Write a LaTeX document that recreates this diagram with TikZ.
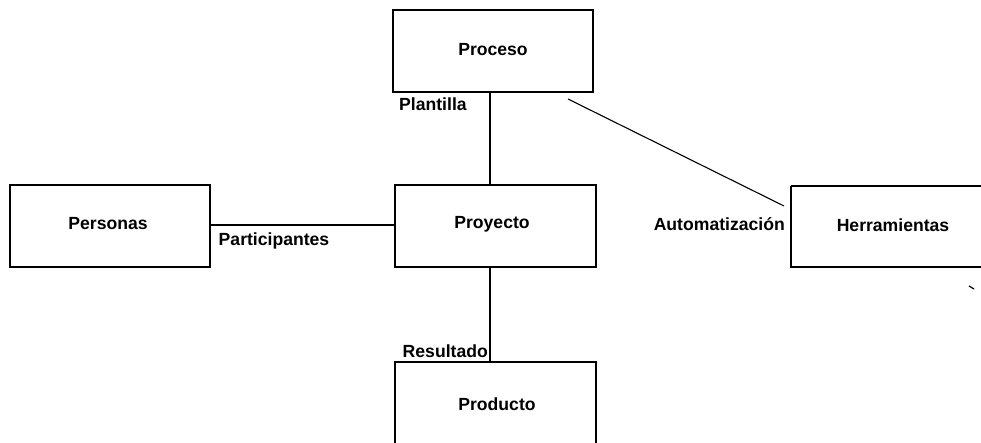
\documentclass[tikz,border=0pt]{standalone}
\usepackage{fontspec}
\setmainfont{Liberation Sans}
\begin{document}
\begin{tikzpicture}[x=1pt,y=-1pt,
  box/.style={draw,line width=1.3pt},
  txt/.style={font=\fontsize{17.6}{20}\selectfont\bfseries,inner sep=0pt},
  link/.style={line width=1.1pt}]
\useasboundingbox (0,0) rectangle (981,443);
% boxes
\draw[box] (393,10) rectangle (593,92);
\draw[box] (10,185) rectangle (210,267);
\draw[box] (395,185) rectangle (596,267);
\draw[box] (791,186) -- (995,186) (791,186) -- (791,267) -- (995,267);
\draw[box] (395,460) -- (395,362) -- (596,362) -- (596,460);
% box texts
\node[txt] (proceso) at (493,50) {Proceso};
\node[txt] (personas) at (108,224) {Personas};
\node[txt] (proyecto) at (492,224) {Proyecto};
\node[txt] (herr) at (893,225) {Herramientas};
\node[txt] (producto) at (497,404) {Producto};
% anchor points on the box borders
\coordinate (procB) at (490,92);
\coordinate (proyT) at (490,185);
\coordinate (proyL) at (395,225);
\coordinate (persR) at (210,225);
\coordinate (proyB) at (490,267);
\coordinate (prodT) at (490,362);
\coordinate (procD) at (568,99);
\coordinate (herrD) at (784,206);
% connectors
\draw[link] (procB) -- (proyT);
\draw[link] (persR) -- (proyL);
\draw[link] (proyB) -- (prodT);
\draw[link] (procD) -- (herrD);
\draw[line width=1.2pt] (969,286) -- (974,289);
% labels
\node[txt,anchor=west] (plantilla) at (399,104) {Plantilla};
\node[txt] (participantes) at (274,241) {Participantes};
\node[txt,anchor=east] (auto) at (785,224) {Automatización};
\node[txt,anchor=east] (resultado) at (488,351) {Resultado};
\end{tikzpicture}
\end{document}
